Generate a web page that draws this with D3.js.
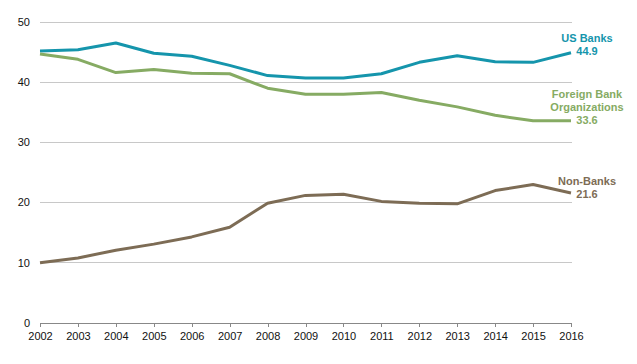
<!DOCTYPE html>
<html><head><meta charset="utf-8">
<script src="https://cdn.jsdelivr.net/npm/d3@7"></script>
<style>
body{margin:0;background:#fff;}
text{font-family:"Liberation Sans",Arial,sans-serif;}
</style></head>
<body><svg id="c" width="637" height="364"></svg>
<script>
const years = [2002,2003,2004,2005,2006,2007,2008,2009,2010,2011,2012,2013,2014,2015,2016];
const usBanks = [45.2,45.4,46.5,44.8,44.3,42.8,41.1,40.7,40.7,41.4,43.3,44.4,43.4,43.3,44.9];
const foreignBanks = [44.7,43.8,41.6,42.1,41.5,41.4,39.0,38.0,38.0,38.3,37.0,35.9,34.5,33.6,33.6];
const nonBanks = [10.0,10.8,12.1,13.1,14.3,15.9,19.9,21.2,21.4,20.2,19.9,19.8,22.0,23.0,21.6];
const yTicks = [0,10,20,30,40,50];
const seriesNames = ["US Banks","Foreign Bank|Organizations","Non-Banks"];

const svg = d3.select("#c");
const x = d3.scaleLinear().domain([2002,2016]).range([40,571]);
const y = d3.scaleLinear().domain([0,50]).range([323,22]);

// gridlines
svg.append("g").selectAll("line").data(yTicks.filter(d=>d>0)).join("line")
  .attr("x1",40).attr("x2",571.5).attr("y1",d=>y(d)).attr("y2",d=>y(d))
  .attr("stroke","#c8c8c8").attr("stroke-width",1).attr("shape-rendering","crispEdges");

// y labels
svg.append("g").selectAll("text").data(yTicks).join("text")
  .attr("x",30).attr("y",d=>y(d)).attr("dy","0.35em").attr("text-anchor","end")
  .attr("font-size",11).attr("fill","#111").text(d=>d);

// x axis
const xAxis = d3.axisBottom(x).tickValues(years).tickFormat(d3.format("d")).tickSize(4).tickSizeOuter(0);
const gx = svg.append("g").attr("transform","translate(0,323)").call(xAxis);
gx.select(".domain").attr("stroke","#888").attr("shape-rendering","crispEdges");
gx.selectAll(".tick line").attr("stroke","#888").attr("shape-rendering","crispEdges");
gx.selectAll(".tick text").attr("font-size",11).attr("fill","#111").attr("font-family","Liberation Sans, Arial, sans-serif").attr("dy","0.9em");

const line = d3.line().x((d,i)=>x(years[i])).y(d=>y(d));
const series = [
  {vals:usBanks,color:"#1595ac",lab:seriesNames[0].split("|"),ly:[38]},
  {vals:foreignBanks,color:"#86ab63",lab:seriesNames[1].split("|"),ly:[94,107]},
  {vals:nonBanks,color:"#7d6c55",lab:seriesNames[2].split("|"),ly:[181]}
];
series.forEach(s=>{
  svg.append("path").datum(s.vals).attr("d",line).attr("fill","none")
    .attr("stroke",s.color).attr("stroke-width",3).attr("stroke-linejoin","round");
  const t = svg.append("g").attr("font-size",11).attr("font-weight","bold").attr("fill",s.color).attr("text-anchor","middle");
  s.lab.forEach((l,i)=>{
    t.append("text").attr("x",587).attr("y",s.ly[i]).attr("dy","0.35em").text(l);
  });
  t.append("text").attr("x",587).attr("y",s.ly[s.ly.length-1]+13).attr("dy","0.35em").text(s.vals[s.vals.length-1].toFixed(1));
});
</script></body></html>
